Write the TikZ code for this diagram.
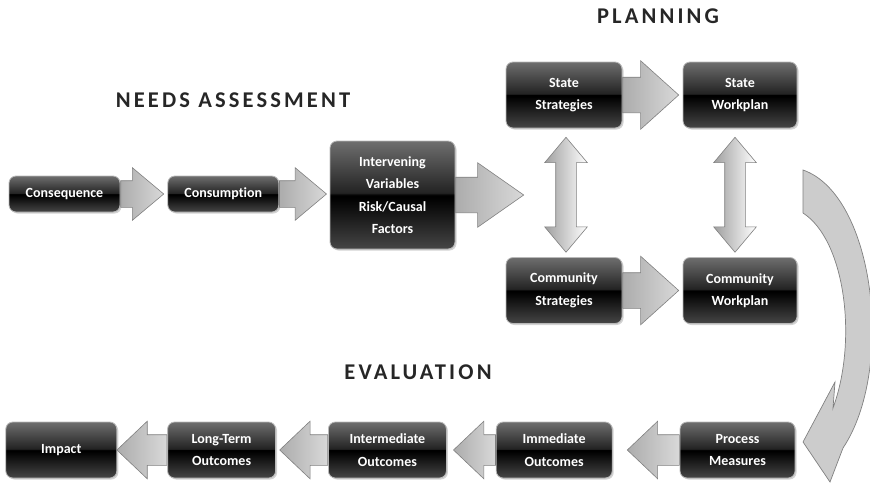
\documentclass[tikz,border=0pt]{standalone}
\usepackage{fontspec}
\setmainfont{Carlito}[Ligatures=NoCommon]
\newfontfamily\headfont[LetterSpace=14]{Carlito}
\usepackage{tikz}
\usetikzlibrary{positioning,shapes.arrows,shadows,calc}

\definecolor{boxtop}{RGB}{110,110,110}
\definecolor{boxmid}{RGB}{35,35,35}
\definecolor{boxlow}{RGB}{70,70,70}
\pgfdeclareverticalshading{glossybox}{100bp}{color(0bp)=(boxlow); color(25bp)=(boxlow);
  color(49bp)=(black); color(50bp)=(black); color(51bp)=(boxmid); color(75bp)=(boxtop); color(100bp)=(boxtop)}

\begin{document}
\begin{tikzpicture}[x=1pt,y=-1pt,
  stepnode/.style={rounded corners=7pt,draw=gray!55,line width=0.8pt,shading=glossybox,
    text=white,font=\fontsize{14}{22.5}\selectfont\bfseries,align=center,inner sep=0pt,
    drop shadow={opacity=0.35,shadow xshift=1.5pt,shadow yshift=-1.5pt}},
  fatarrow/.style={single arrow,draw=gray,line width=0.6pt,left color=gray!65,right color=gray!30,
    inner xsep=0pt,anchor=tail},
  dblarrow/.style={double arrow,draw=gray,line width=0.6pt,rotate=90,left color=gray!75,right color=white,
    inner xsep=0pt,minimum height=115pt,inner ysep=10pt,double arrow head extend=11pt,double arrow tip angle=80},
  headlabel/.style={font=\headfont\fontsize{22.5}{22.5}\selectfont\bfseries,text=black!85,inner sep=0pt}]
  \useasboundingbox (0,0) rectangle (870,485);

  % needs assessment
  \node[headlabel] (needs) at (233,100) {NEEDS ASSESSMENT};
  \node[stepnode,minimum width=111pt,minimum height=36pt] (cons) at (64.5,194) {Consequence};
  \node[stepnode,minimum width=111pt,minimum height=36pt,right=47pt of cons] (consum) {Consumption};
  \node[stepnode,minimum width=125pt,minimum height=108pt] (interv) at (392.5,195) {Intervening\\Variables\\Risk/Causal\\Factors};
  \node[fatarrow,minimum height=43pt,inner ysep=13pt,single arrow head extend=13pt,single arrow tip angle=80] (a1) at (cons.east) {};
  \node[fatarrow,minimum height=47pt,inner ysep=13pt,single arrow head extend=13pt,single arrow tip angle=80] (a2) at (consum.east) {};
  \node[fatarrow,minimum height=68pt,inner ysep=17.5pt,single arrow head extend=14.5pt,single arrow tip angle=70] (a3) at (interv.east) {};

  % planning
  \node[headlabel] (plan) at (658,16) {PLANNING};
  \node[stepnode,minimum width=116pt,minimum height=66pt] (sstrat) at (564,95) {State\\Strategies};
  \node[stepnode,minimum width=114pt,minimum height=66pt] (swork) at (740,95) {State\\Workplan};
  \node[stepnode,minimum width=116pt,minimum height=66pt] (cstrat) at (564,290.5) {Community\\Strategies};
  \node[stepnode,minimum width=114pt,minimum height=66pt] (cwork) at (740,290.5) {Community\\Workplan};
  \node[fatarrow,minimum height=56pt,inner ysep=17.5pt,single arrow head extend=16.5pt,single arrow tip angle=84] (s1) at (sstrat.east) {};
  \node[fatarrow,minimum height=56pt,inner ysep=17.5pt,single arrow head extend=16.5pt,single arrow tip angle=84] (c1) at (cstrat.east) {};
  \node[dblarrow] (v1) at ($(sstrat.south)!0.5!(cstrat.north)+(2,2)$) {};
  \node[dblarrow] (v2) at ($(swork.south)!0.5!(cwork.north)+(-5,2)$) {};

  % round to evaluation
  \draw[fill=gray!40,draw=gray,line width=0.7pt] (803,170) .. controls (875,195) and (895,370) .. (843,448)
    -- (830,482) -- (803,442) -- (835,382) -- (833,408) .. controls (858,340) and (845,240) .. (803,213) -- cycle;

  % evaluation
  \node[headlabel] (eval) at (418,372) {EVALUATION};
  \node[stepnode,minimum width=115pt,minimum height=56pt] (process) at (737.5,450) {Process\\Measures};
  \node[stepnode,minimum width=116pt,minimum height=56pt,left=67pt of process] (immed) {Immediate\\Outcomes};
  \node[stepnode,minimum width=118pt,minimum height=56pt,left=49pt of immed] (interm) {Intermediate\\Outcomes};
  \node[stepnode,minimum width=108pt,minimum height=56pt,left=52pt of interm] (longterm) {Long-Term\\Outcomes};
  \node[stepnode,minimum width=111pt,minimum height=56pt,left=50pt of longterm] (impact) {Impact};
  \node[fatarrow,rotate=180,minimum height=52pt,inner ysep=15pt,single arrow head extend=13.5pt,single arrow tip angle=87] (b1) at (process.west) {};
  \node[fatarrow,rotate=180,minimum height=42pt,inner ysep=15pt,single arrow head extend=13.5pt,single arrow tip angle=87] (b2) at (immed.west) {};
  \node[fatarrow,rotate=180,minimum height=48pt,inner ysep=15pt,single arrow head extend=13.5pt,single arrow tip angle=87] (b3) at (interm.west) {};
  \node[fatarrow,rotate=180,minimum height=50pt,inner ysep=15pt,single arrow head extend=13.5pt,single arrow tip angle=87] (b4) at (longterm.west) {};
\end{tikzpicture}
\end{document}
